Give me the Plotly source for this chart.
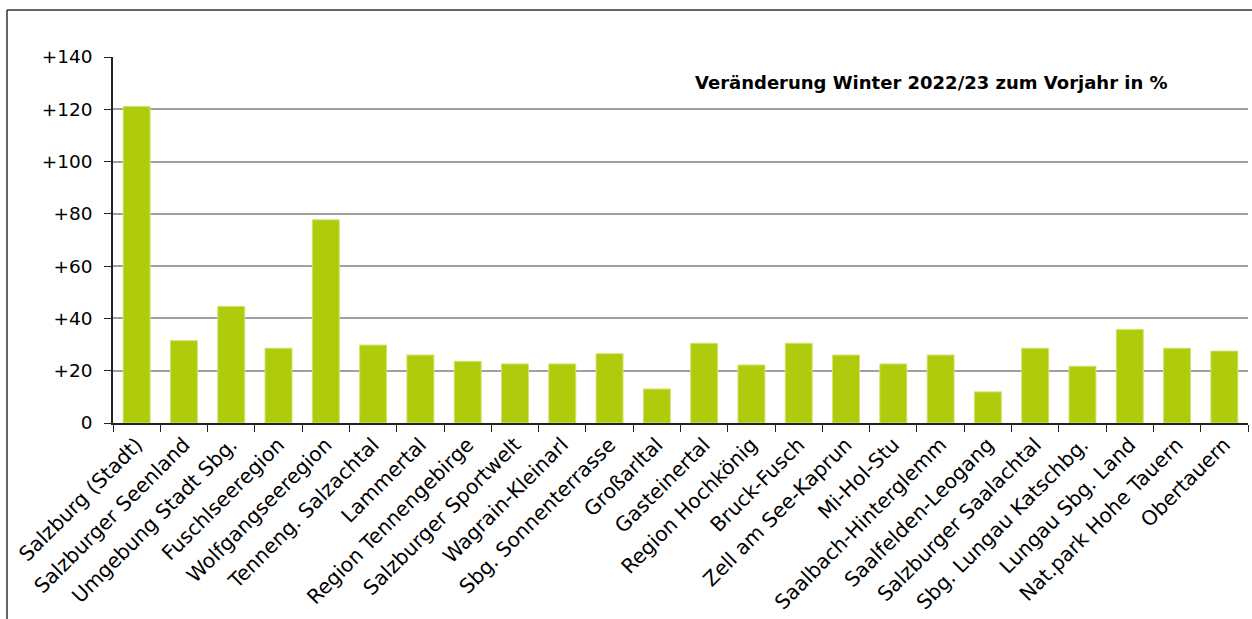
import plotly.graph_objects as go

regions = [
    "Salzburg (Stadt)", "Salzburger Seenland", "Umgebung Stadt Sbg.", "Fuschlseeregion",
    "Wolfgangseeregion", "Tenneng. Salzachtal", "Lammertal", "Region Tennengebirge",
    "Salzburger Sportwelt", "Wagrain-Kleinarl", "Sbg. Sonnenterrasse", "Großarltal",
    "Gasteinertal", "Region Hochkönig", "Bruck-Fusch", "Zell am See-Kaprun",
    "Mi-Hol-Stu", "Saalbach-Hinterglemm", "Saalfelden-Leogang", "Salzburger Saalachtal",
    "Sbg. Lungau Katschbg.", "Lungau Sbg. Land", "Nat.park Hohe Tauern", "Obertauern",
]
change_pct = [
    121.1, 31.5, 44.6, 28.6,
    77.7, 29.8, 26.0, 23.6,
    22.6, 22.6, 26.5, 13.0,
    30.5, 22.2, 30.5, 26.0,
    22.6, 26.0, 11.9, 28.6,
    21.7, 35.8, 28.6, 27.5,
]
y_tick_values = [0, 20, 40, 60, 80, 100, 120, 140]
y_tick_labels = ["0", "+20", "+40", "+60", "+80", "+100", "+120", "+140"]
title_text = "Veränderung Winter 2022/23 zum Vorjahr in %"

FONT = "DejaVu Sans"
W, H = 1252, 619
ML, MR, MT, MB = 113, 4, 57, 196

fig = go.Figure(
    go.Bar(
        x=regions,
        y=change_pct,
        marker=dict(color="#b0ca0c", line=dict(color="#d2e36e", width=1)),
        hoverinfo="x+y",
    )
)

pw = W - ML - MR
ph = H - MT - MB
bx = (7 - ML) / pw
by = (H - MB - 10) / ph

fig.update_layout(
    width=W,
    height=H,
    margin=dict(l=ML, r=MR, t=MT, b=MB, autoexpand=False),
    paper_bgcolor="white",
    plot_bgcolor="white",
    bargap=0.43,
    showlegend=False,
    font=dict(family=FONT, color="black"),
    xaxis=dict(
        type="category",
        tickangle=-45,
        automargin=False,
        tickfont=dict(family=FONT, size=20.3, color="black"),
        showline=True,
        linecolor="#222222",
        linewidth=1.5,
        ticks="outside",
        ticklen=7,
        tickcolor="#222222",
        tickson="boundaries",
        showgrid=False,
        zeroline=False,
    ),
    yaxis=dict(
        range=[0, 140],
        automargin=False,
        tickvals=y_tick_values,
        ticktext=y_tick_labels,
        tickfont=dict(family=FONT, size=18.5, color="black"),
        ticklabelstandoff=8,
        showline=True,
        linecolor="#222222",
        linewidth=1.5,
        ticks="outside",
        ticklen=7,
        tickcolor="#222222",
        showgrid=True,
        gridcolor="#a0a0a0",
        gridwidth=1.5,
        zeroline=False,
    ),
    annotations=[
        dict(
            text="<b>" + title_text + "</b>",
            xref="paper", yref="paper",
            x=(1170 - ML) / pw, y=(H - MB - 83) / ph,
            xanchor="right", yanchor="middle",
            showarrow=False,
            font=dict(family=FONT, size=18, color="black"),
        )
    ],
    shapes=[
        dict(type="line", xref="paper", yref="paper", x0=bx, y0=by, x1=1.2, y1=by,
             line=dict(color="#333333", width=1.5)),
        dict(type="line", xref="paper", yref="paper", x0=bx, y0=by, x1=bx, y1=-1,
             line=dict(color="#333333", width=1.5)),
    ],
)

fig.write_html(
    "out.html",
    config={"displayModeBar": False},
    post_script="document.body.style.margin='0';document.body.style.overflow='hidden';",
)
